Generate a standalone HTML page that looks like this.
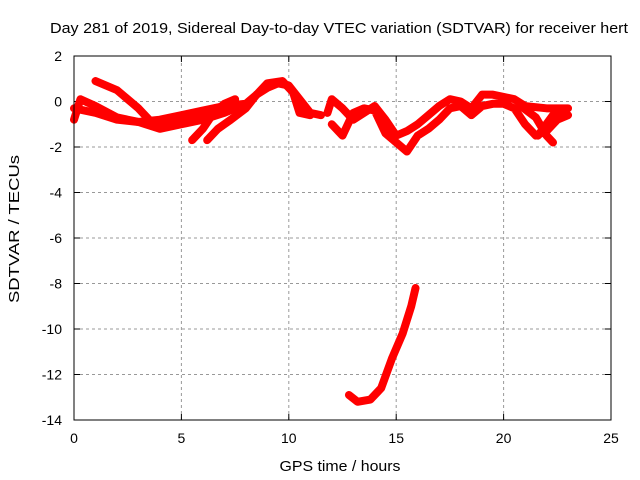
<!DOCTYPE html>
<html><head><meta charset="utf-8"><style>
body{margin:0;background:#fff}
svg{display:block;font-family:"Liberation Sans",sans-serif}
</style></head><body>
<svg id="c" width="640" height="480">
<text x="339" y="33" text-anchor="middle" font-size="15" textLength="578" lengthAdjust="spacingAndGlyphs">Day 281 of 2019, Sidereal Day-to-day VTEC variation (SDTVAR) for receiver hert</text>
<text x="340" y="471" text-anchor="middle" font-size="15" textLength="121" lengthAdjust="spacingAndGlyphs">GPS time / hours</text>
<text transform="translate(19,229) rotate(-90)" text-anchor="middle" font-size="15" textLength="148" lengthAdjust="spacingAndGlyphs">SDTVAR / TECUs</text>
<g id="grid"></g><g id="ticks"></g><g id="marks"></g>
<rect x="74" y="56" width="537" height="364" fill="none" stroke="#000" stroke-width="1"/>
</svg>
<script>
const xTicks=[0,5,10,15,20,25];
const yTicks=[2,0,-2,-4,-6,-8,-10,-12,-14];
const traceMain=[[0,-0.3],[1,-0.5],[2,-0.8],[3,-0.9],[4,-0.8],[5,-0.6],[6,-0.4],[7,-0.2],[8,-0.1],[8.5,0.3],[9,0.6],[9.5,0.8],[10,0.7],[10.5,0.1],[11,-0.5],[11.5,-0.6]];
const traceUpper=[[1,0.9],[2,0.5],[3,-0.3],[3.5,-0.8],[4,-1.1],[4.5,-0.9],[5,-0.8],[6,-0.6],[7,-0.3],[7.5,0]];
const traceLower=[[0,-0.8],[0.3,0.1],[1,-0.2],[2,-0.7],[3,-0.9],[4,-1.2],[5,-1.0],[6,-0.8],[7,-0.5],[7.5,-0.3]];
const traceDipA=[[5.5,-1.7],[6,-1.2],[6.5,-0.5],[7,-0.1],[7.5,0.1]];
const traceDipB=[[6.2,-1.7],[6.7,-1.2],[7.3,-0.8],[8,-0.3],[8.5,0.3],[9,0.8],[9.7,0.9],[10.2,0.4],[10.5,-0.5],[11,-0.6]];
const traceRightA=[[11.8,-0.5],[12,0.1],[12.5,-0.3],[13,-0.8],[13.5,-0.5],[14,-0.2],[14.5,-0.8],[15,-1.5],[15.5,-1.3],[16,-1.0],[16.5,-0.6],[17,-0.2],[17.5,0.1],[18,0.0],[18.5,-0.3],[19,0.3],[19.5,0.3],[20,0.2],[20.5,0.1],[21,-0.2],[22,-0.3],[23,-0.3]];
const traceRightB=[[12,-1.0],[12.5,-1.5],[13,-0.5],[13.5,-0.3],[14,-0.4],[14.5,-1.4],[15,-1.8],[15.5,-2.2],[16,-1.5],[16.5,-1.2],[17,-0.8],[17.5,-0.3],[18,-0.2],[18.5,-0.6],[19,-0.2],[19.5,-0.1],[20,-0.1],[20.5,-0.3],[21,-1.0],[21.5,-1.5],[22,-1.3],[22.5,-0.8],[23,-0.6]];
const traceRightC=[[20.8,-0.2],[21.5,-0.7],[22,-1.5],[22.3,-1.8]];
const traceRightD=[[21.6,-1.5],[22.3,-0.6],[22.9,-0.4]];
const traceOutlier=[[12.8,-12.9],[13.2,-13.2],[13.8,-13.1],[14.3,-12.6],[14.8,-11.3],[15.3,-10.2],[15.7,-9.0],[15.9,-8.2]];
const traces=[traceMain,traceUpper,traceLower,traceDipA,traceDipB,traceRightA,traceRightB,traceRightC,traceRightD,traceOutlier];
const traceNames=['trace-main','trace-upper','trace-lower','trace-dip-a','trace-dip-b','trace-right-a','trace-right-b','trace-right-c','trace-right-d','trace-outlier'];
const X0=74,X1=611,Y0=420,Y1=56,xmin=0,xmax=25,ymin=-14,ymax=2;
const sx=h=>X0+(h-xmin)/(xmax-xmin)*(X1-X0);
const sy=v=>Y0-(v-ymin)/(ymax-ymin)*(Y0-Y1);
const NS='http://www.w3.org/2000/svg';
const grid=document.getElementById('grid'),ticks=document.getElementById('ticks'),marks=document.getElementById('marks');
function mk(t,a,p){const e=document.createElementNS(NS,t);for(const k in a)e.setAttribute(k,a[k]);p.appendChild(e);return e;}
xTicks.forEach(t=>{const x=sx(t);
 if(t>xmin&&t<xmax){const g=mk('line',{x1:x,x2:x,y1:Y0,y2:Y1,stroke:'#999','stroke-dasharray':'3,3'},grid);
 
 }
 mk('line',{x1:x,x2:x,y1:Y0,y2:Y0-6,stroke:'#000'},ticks);mk('line',{x1:x,x2:x,y1:Y1,y2:Y1+6,stroke:'#000'},ticks);
 const l=mk('text',{x:x,y:Y0+23,'text-anchor':'middle','font-size':14},ticks);l.textContent=t;
 
 });
yTicks.forEach(t=>{const y=sy(t);
 if(t>ymin&&t<ymax){const g=mk('line',{x1:X0,x2:X1,y1:y,y2:y,stroke:'#999','stroke-dasharray':'3,3'},grid);
 
 }
 mk('line',{x1:X0,x2:X0+6,y1:y,y2:y,stroke:'#000'},ticks);mk('line',{x1:X1,x2:X1-6,y1:y,y2:y,stroke:'#000'},ticks);
 const l=mk('text',{x:X0-12,y:y+5,'text-anchor':'end','font-size':14},ticks);l.textContent=t;
 
 });
traces.forEach((tr,i)=>{const p=mk('polyline',{points:tr.map(d=>sx(d[0])+','+sy(d[1])).join(' '),fill:'none',stroke:'#f00','stroke-width':8,'stroke-linejoin':'round','stroke-linecap':'round'},marks);
 
 });
</script>
</body></html>
